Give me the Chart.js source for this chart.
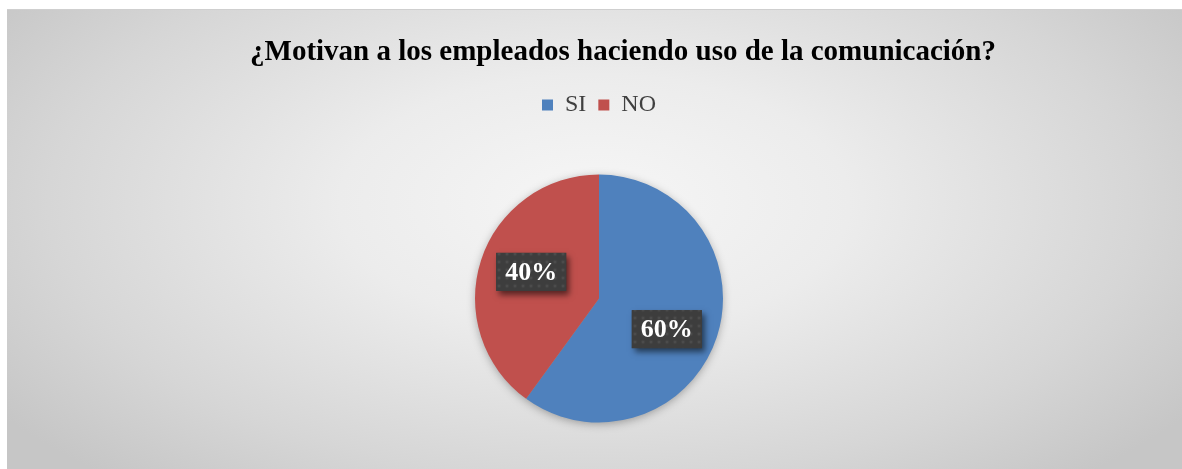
<!DOCTYPE html>
<html>
<head>
<meta charset="utf-8">
<script src="https://cdn.jsdelivr.net/npm/chart.js@4/dist/chart.umd.min.js"></script>
<style>
    html, body { margin: 0; padding: 0; background: #fff; overflow: hidden; }
    #box {
        position: absolute; left: 7px; top: 9px; width: 1175px; height: 460px;
        border-top: 1px solid #cfcfcf; box-sizing: border-box;
        background: radial-gradient(ellipse 62% 80% at 50% 42%, #f6f6f6 0%, #ececec 35%, #d6d6d6 75%, #c6c6c6 100%);
    }
    canvas { position: absolute; left: 0; top: 0; }
</style>
</head>
<body>
<div id="box"><canvas id="pieChart" width="1175" height="460"></canvas></div>
<script>
const chartTitle = '¿Motivan a los empleados haciendo uso de la comunicación?';
const categories = ['SI', 'NO'];
const percentages = [60, 40];
const sliceColors = ['#4f81bd', '#c0504d'];

const serif = '"Liberation Serif", "Times New Roman", serif';

// dotted dark texture used behind the percentage labels
function makeLabelPattern(ctx) {
    const tile = document.createElement('canvas');
    tile.width = 8;
    tile.height = 8;
    const t = tile.getContext('2d');
    t.fillStyle = '#3d3d3d';
    t.fillRect(0, 0, 8, 8);
    const g = t.createRadialGradient(4, 4, 0, 4, 4, 3);
    g.addColorStop(0, '#565656');
    g.addColorStop(1, 'rgba(61,61,61,0)');
    t.fillStyle = g;
    t.fillRect(0, 0, 8, 8);
    return ctx.createPattern(tile, 'repeat');
}

const titlePlugin = {
    id: 'titleText',
    afterDraw(chart) {
        const ctx = chart.ctx;
        ctx.save();
        ctx.font = 'bold 29px ' + serif;
        ctx.fillStyle = '#000';
        ctx.textAlign = 'center';
        ctx.textBaseline = 'alphabetic';
        ctx.fillText(chartTitle, 616, 50);
        ctx.restore();
    }
};

// soft shadow under the whole pie
const pieShadow = {
    id: 'pieShadow',
    beforeDatasetsDraw(chart) {
        const arc = chart.getDatasetMeta(0).data[0];
        if (!arc) return;
        const { x, y, outerRadius } = arc.getProps(['x', 'y', 'outerRadius'], true);
        const ctx = chart.ctx;
        ctx.save();
        ctx.shadowColor = 'rgba(0,0,0,0.35)';
        ctx.shadowBlur = 10;
        ctx.shadowOffsetY = 2;
        ctx.fillStyle = '#999';
        ctx.beginPath();
        ctx.arc(x, y, outerRadius - 1, 0, Math.PI * 2);
        ctx.fill();
        ctx.restore();
    }
};

const valueLabels = {
    id: 'valueLabels',
    afterDatasetsDraw(chart) {
        const ctx = chart.ctx;
        const pattern = makeLabelPattern(ctx);
        chart.getDatasetMeta(0).data.forEach((arc, i) => {
            const p = arc.getProps(['x', 'y', 'startAngle', 'endAngle', 'outerRadius'], true);
            const mid = (p.startAngle + p.endAngle) / 2;
            const r = p.outerRadius * 0.575;
            const cx = p.x + Math.cos(mid) * r;
            const cy = p.y + Math.sin(mid) * r * 1.3 + 2;
            const text = percentages[i] + '%';
            ctx.save();
            ctx.font = 'bold 26px ' + serif;
            const w = 70, h = 38;
            ctx.shadowColor = 'rgba(0,0,0,0.55)';
            ctx.shadowBlur = 6;
            ctx.shadowOffsetX = 3;
            ctx.shadowOffsetY = 4;
            ctx.fillStyle = '#3d3d3d';
            ctx.fillRect(cx - w / 2, cy - h / 2, w, h);
            ctx.shadowColor = 'transparent';
            ctx.fillStyle = pattern;
            ctx.fillRect(cx - w / 2, cy - h / 2, w, h);
            ctx.fillStyle = '#fff';
            ctx.textAlign = 'center';
            ctx.textBaseline = 'middle';
            ctx.fillText(text, cx, cy + 1);
            ctx.restore();
        });
    }
};

const ctx = document.getElementById('pieChart').getContext('2d');
new Chart(ctx, {
    type: 'pie',
    data: {
        labels: categories,
        datasets: [{
            data: percentages,
            backgroundColor: sliceColors,
            borderWidth: 0,
            radius: 124
        }]
    },
    options: {
        responsive: false,
        animation: false,
        layout: {
            padding: { top: 71, left: 9, right: 0, bottom: -10 }
        },
        plugins: {
            title: { display: false },
            tooltip: { enabled: false },
            legend: {
                position: 'top',
                labels: {
                    boxWidth: 11,
                    boxHeight: 11,
                    padding: 12,
                    color: '#404040',
                    font: { family: serif, size: 24 }
                }
            }
        }
    },
    plugins: [pieShadow, valueLabels, titlePlugin]
});
</script>
</body>
</html>
